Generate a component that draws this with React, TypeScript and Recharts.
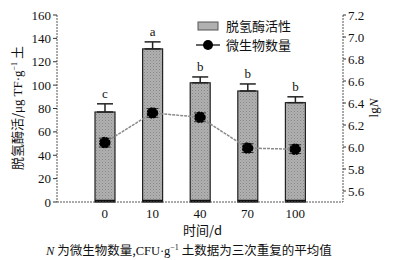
import React from 'react';
import { ComposedChart, Bar, Line, XAxis, YAxis, ErrorBar, LabelList } from 'recharts';

const days = ['0', '10', '40', '70', '100'];
const enzyme = [77, 131, 102, 95, 85];
const enzymeErr = [7, 6, 5, 6, 5];
const sig = ['c', 'a', 'b', 'b', 'b'];
const lgN = [6.04, 6.31, 6.27, 5.99, 5.98];
const lgNErr = [0.04, 0.04, 0.04, 0.04, 0.04];
const leftTicks = [0, 20, 40, 60, 80, 100, 120, 140, 160];
const rightTicks = [5.6, 5.8, 6.0, 6.2, 6.4, 6.6, 6.8, 7.0, 7.2];

const data = days.map((d, i) => ({
  day: d,
  enzyme: enzyme[i],
  enzymeErr: [0, enzymeErr[i]],
  sig: sig[i],
  lgN: lgN[i],
  lgNErr: lgNErr[i],
}));

const FONT = '"Liberation Serif", "Noto Sans CJK SC", serif';
const CJK = '"Noto Sans CJK SC", "Liberation Serif", serif';

const BarShape = (props: any) => {
  const { x, y, width, height, index } = props;
  return (
    <g>
      {index === 0 && (
        <defs>
          <pattern id="hatch" width="3" height="3" patternUnits="userSpaceOnUse">
            <rect width="3" height="3" fill="#b0b0b0" />
            <rect width="1" height="1" fill="#888" />
            <rect x="1.5" y="1.5" width="1" height="1" fill="#989898" />
          </pattern>
        </defs>
      )}
      <rect x={x} y={y} width={width} height={height} fill="url(#hatch)" stroke="#222" strokeWidth={1.2} />
      <line x1={x} x2={x + width} y1={y + height - 1} y2={y + height - 1} stroke="#111" strokeWidth={2.5} />
    </g>
  );
};

const SigLabel = (props: any) => {
  const { x, y, width, height, value, index } = props;
  const v = enzyme[index];
  const errPx = (enzymeErr[index] * height) / v;
  return (
    <text x={x + width / 2} y={y - errPx - 6} textAnchor="middle" fontFamily={FONT} fontSize={13} fill="#111">
      {value}
    </text>
  );
};

const LegendBox = () => (
  <div
    style={{
      position: 'absolute',
      left: 196,
      top: 16,
      fontFamily: CJK,
      fontSize: 13,
      color: '#111',
      lineHeight: '19px',
    }}
  >
    <div style={{ display: 'flex', alignItems: 'center' }}>
      <svg width={24} height={12} style={{ marginRight: 6 }}>
        <rect x={2} y={2} width={20} height={8} fill="#b0b0b0" stroke="#555" strokeWidth={1} />
      </svg>
      <span>脱氢酶活性</span>
    </div>
    <div style={{ display: 'flex', alignItems: 'center' }}>
      <svg width={24} height={12} style={{ marginRight: 6 }}>
        <line x1={0} x2={24} y1={6} y2={6} stroke="#333" strokeWidth={1.5} />
        <circle cx={12} cy={6} r={5} fill="#000" />
      </svg>
      <span>微生物数量</span>
    </div>
  </div>
);

const LeftLabel = () => (
  <text
    transform="translate(22,108) rotate(-90)"
    textAnchor="middle"
    fontFamily={CJK}
    fontSize={13}
    fill="#111"
  >
    <tspan>脱氢酶活/</tspan>
    <tspan fontFamily={FONT}>μg TF·g</tspan>
    <tspan fontFamily={FONT} fontSize={8} dy={-5}>−1</tspan>
    <tspan dy={5}> 土</tspan>
  </text>
);

const RightLabel = () => (
  <text transform="translate(378,108) rotate(-90)" textAnchor="middle" fontFamily={FONT} fontSize={13} fill="#111">
    <tspan>lg</tspan>
    <tspan fontStyle="italic">N</tspan>
  </text>
);

export default function App() {
  return (
    <div style={{ position: 'absolute', left: 0, top: 0, width: 405, height: 260, background: '#fff' }}>
      <ComposedChart
        width={405}
        height={260}
        data={data}
        margin={{ top: 15, right: 0, bottom: 28, left: 0 }}
        barCategoryGap={0}
      >
        <XAxis
          dataKey="day"
          padding={{ left: 24, right: 24 }}
          tickLine={false}
          axisLine={{ stroke: '#555', strokeDasharray: '2 1' }}
          tick={{ fontFamily: FONT, fontSize: 13, fill: '#111' }}
          height={30}
          tickMargin={1}
        />
        <YAxis
          yAxisId="left"
          orientation="left"
          width={57}
          domain={[0, 160]}
          ticks={leftTicks}
          interval={0}
          tickSize={4}
          axisLine={{ stroke: '#555', strokeDasharray: '2 1' }}
          tickLine={{ stroke: '#333' }}
          tick={{ fontFamily: FONT, fontSize: 13, fill: '#111' }}
        />
        <YAxis
          yAxisId="right"
          orientation="right"
          width={62}
          domain={[5.5, 7.2]}
          ticks={rightTicks}
          interval={0}
          tickSize={3}
          axisLine={{ stroke: '#555', strokeDasharray: '2 1' }}
          tickLine={{ stroke: '#333' }}
          tick={{ fontFamily: FONT, fontSize: 13, fill: '#111' }}
          tickFormatter={(v: number) => v.toFixed(1)}
        />
        <Bar
          yAxisId="left"
          dataKey="enzyme"
          barSize={20}
          isAnimationActive={false}
          shape={<BarShape />}
        >
          <ErrorBar dataKey="enzymeErr" width={8} stroke="#222" strokeWidth={1.5} direction="y" />
          <LabelList dataKey="sig" content={<SigLabel />} />
        </Bar>
        <Line
          yAxisId="right"
          dataKey="lgN"
          stroke="#8a8a8a"
          strokeWidth={1.5}
          strokeDasharray="3 1"
          dot={{ r: 5, fill: '#000', stroke: '#000' }}
          activeDot={false}
          isAnimationActive={false}
        >
          <ErrorBar dataKey="lgNErr" width={6} stroke="#333" strokeWidth={1} direction="y" />
        </Line>
        <LeftLabel />
        <RightLabel />
      </ComposedChart>
      <LegendBox />
      <div
        style={{
          position: 'absolute',
          left: 0,
          width: 405,
          top: 222,
          textAlign: 'center',
          fontFamily: CJK,
          fontSize: 13,
          lineHeight: '16px',
          color: '#111',
        }}
      >
        时间/d
      </div>
      <div
        style={{
          position: 'absolute',
          left: 46,
          top: 242,
          whiteSpace: 'nowrap',
          fontFamily: CJK,
          fontSize: 12.5,
          lineHeight: '16px',
          color: '#111',
        }}
      >
        <span style={{ fontFamily: FONT, fontStyle: 'italic' }}>N</span> 为微生物数量,
        <span style={{ fontFamily: FONT }}>CFU·g</span>
        <sup style={{ fontFamily: FONT, fontSize: 8, lineHeight: 0 }}>−1</sup> 土数据为三次重复的平均值
      </div>
    </div>
  );
}
